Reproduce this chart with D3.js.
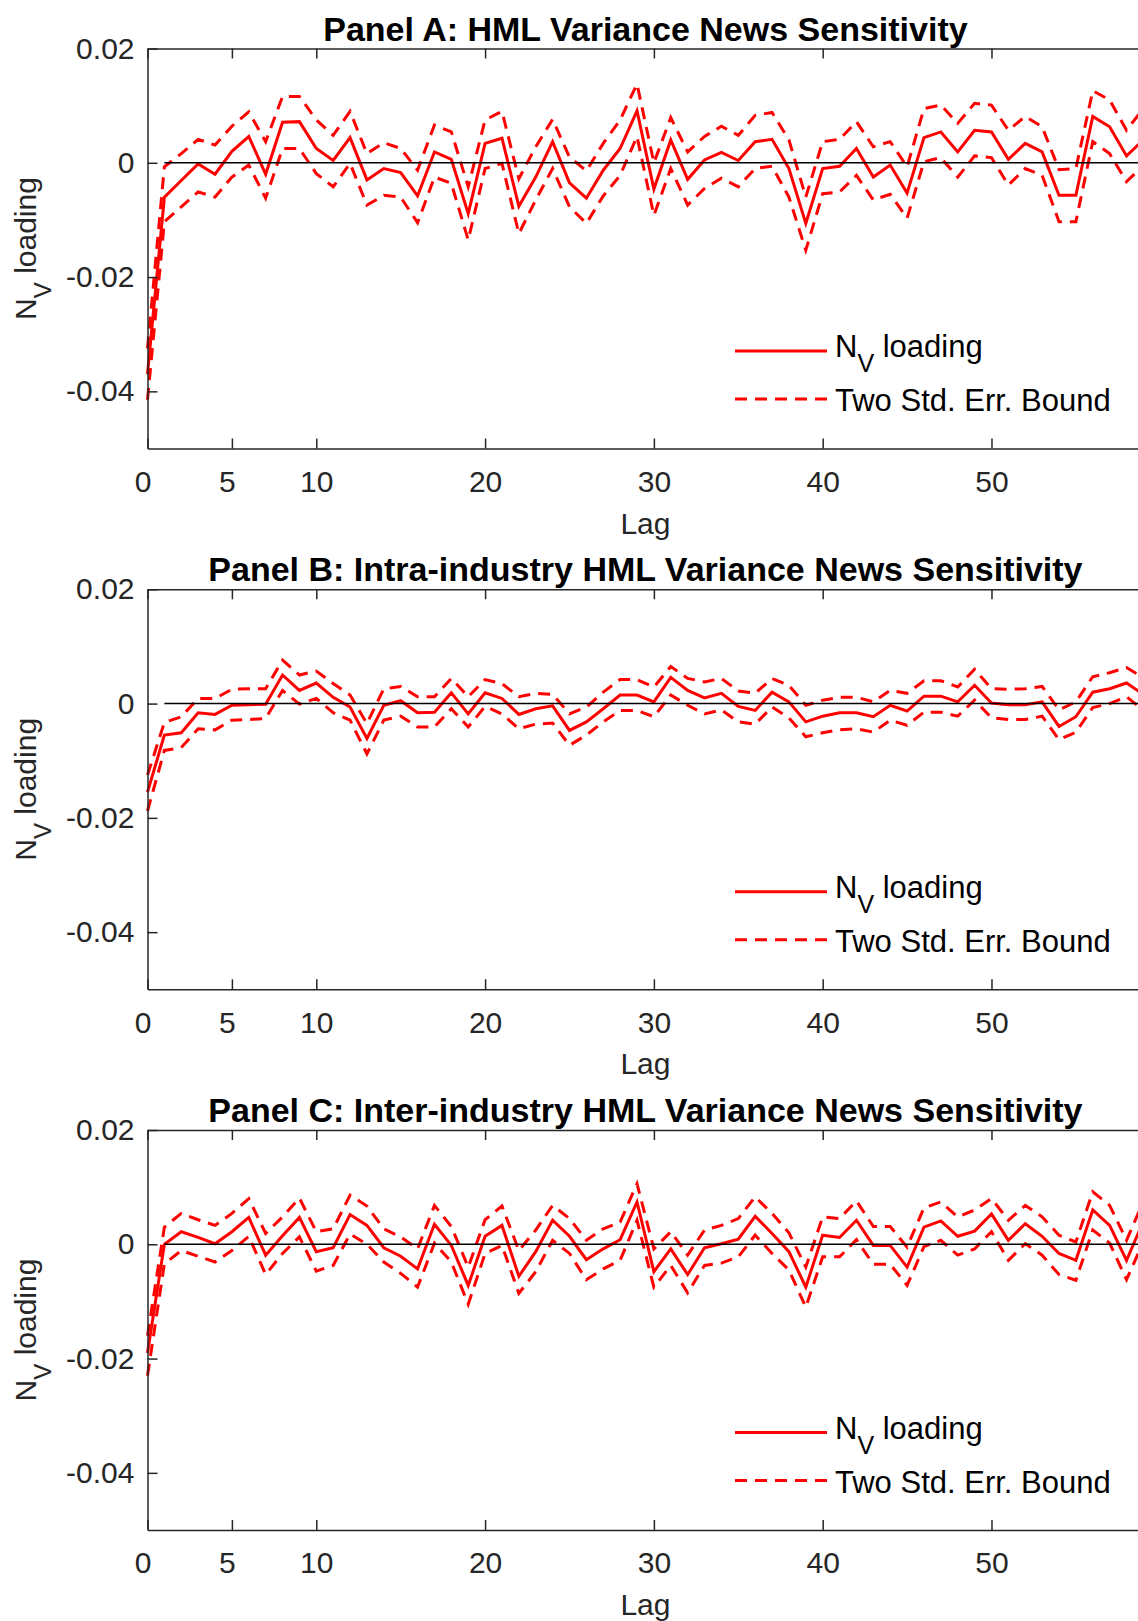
<!DOCTYPE html>
<html>
<head>
<meta charset="utf-8">
<script src="https://cdn.jsdelivr.net/npm/d3@7"></script>
<style>
  html, body { margin: 0; padding: 0; background: #fff; }
  svg { display: block; }
  text { font-family: "Liberation Sans", Arial, Helvetica, sans-serif; }
</style>
</head>
<body>
<svg id="chart" width="1138" height="1621"></svg>
<script>
// ---------------- data ----------------
const lags = [0,1,2,3,4,5,6,7,8,9,10,11,12,13,14,15,16,17,18,19,20,21,22,23,24,25,26,27,28,29,
              30,31,32,33,34,35,36,37,38,39,40,41,42,43,44,45,46,47,48,49,50,51,52,53,54,55,56,57,58,59];

const xTickValues = [0, 5, 10, 20, 30, 40, 50];
const yTickValues = [0.02, 0, -0.02, -0.04];
const yTickLabels = ["0.02", "0", "-0.02", "-0.04"];

const panelTitles = [
  "Panel A: HML Variance News Sensitivity",
  "Panel B: Intra-industry HML Variance News Sensitivity",
  "Panel C: Inter-industry HML Variance News Sensitivity"
];
const legendLabels = ["loading", "Two Std. Err. Bound"];

// Panel A
const loadA = [-0.0370,-0.0060,-0.0031,-0.0002,-0.0020,0.0020,0.0046,-0.0020,0.0071,0.0072,
  0.0025,0.0004,0.0044,-0.0030,-0.0010,-0.0017,-0.0058,0.0019,0.0006,-0.0089,
  0.0034,0.0043,-0.0076,-0.0025,0.0037,-0.0035,-0.0062,-0.0013,0.0025,0.0091,
  -0.0046,0.0040,-0.0029,0.0005,0.0018,0.0004,0.0037,0.0041,-0.0010,-0.0106,
  -0.0010,-0.0006,0.0025,-0.0025,-0.0004,-0.0053,0.0044,0.0054,0.0019,0.0057,
  0.0054,0.0006,0.0034,0.0019,-0.0057,-0.0057,0.0081,0.0063,0.0012,0.0040];
const upperA = [-0.0325,-0.0007,0.0016,0.0041,0.0031,0.0064,0.0089,0.0037,0.0116,0.0116,
  0.0075,0.0048,0.0090,0.0016,0.0035,0.0025,-0.0013,0.0066,0.0054,-0.0042,
  0.0075,0.0090,-0.0028,0.0028,0.0076,0.0010,-0.0014,0.0034,0.0075,0.0138,
  0.0000,0.0079,0.0019,0.0046,0.0064,0.0048,0.0083,0.0088,0.0040,-0.0060,
  0.0037,0.0041,0.0072,0.0028,0.0037,-0.0007,0.0095,0.0101,0.0069,0.0104,
  0.0101,0.0057,0.0081,0.0063,-0.0012,-0.0010,0.0126,0.0110,0.0057,0.0095];
const lowerA = [-0.0415,-0.0103,-0.0077,-0.0051,-0.0060,-0.0025,-0.0004,-0.0062,0.0025,0.0025,
  -0.0019,-0.0042,-0.0001,-0.0074,-0.0057,-0.0060,-0.0105,-0.0025,-0.0036,-0.0135,
  -0.0010,-0.0001,-0.0124,-0.0065,-0.0010,-0.0077,-0.0106,-0.0058,-0.0022,0.0046,
  -0.0092,-0.0010,-0.0074,-0.0045,-0.0027,-0.0042,-0.0010,-0.0006,-0.0060,-0.0153,
  -0.0054,-0.0051,-0.0022,-0.0065,-0.0055,-0.0097,0.0002,0.0009,-0.0025,0.0012,
  0.0009,-0.0039,-0.0010,-0.0022,-0.0103,-0.0103,0.0037,0.0016,-0.0033,-0.0005];

// Panel B
const loadB = [-0.0155,-0.0055,-0.0051,-0.0016,-0.0019,-0.0003,-0.0002,-0.0001,0.0050,0.0023,
  0.0036,0.0011,-0.0006,-0.0061,-0.0003,0.0005,-0.0016,-0.0015,0.0019,-0.0018,
  0.0019,0.0009,-0.0019,-0.0009,-0.0004,-0.0047,-0.0032,-0.0009,0.0015,0.0015,
  0.0003,0.0046,0.0023,0.0010,0.0018,-0.0005,-0.0012,0.0020,0.0003,-0.0032,
  -0.0022,-0.0016,-0.0016,-0.0023,-0.0003,-0.0013,0.0013,0.0013,0.0003,0.0032,
  0.0001,-0.0002,-0.0002,0.0003,-0.0040,-0.0023,0.0020,0.0026,0.0036,0.0016];
const upperB = [-0.0125,-0.0033,-0.0023,0.0009,0.0009,0.0025,0.0026,0.0026,0.0076,0.0050,
  0.0057,0.0035,0.0015,-0.0035,0.0026,0.0030,0.0012,0.0012,0.0044,0.0012,
  0.0042,0.0035,0.0012,0.0018,0.0016,-0.0018,-0.0006,0.0020,0.0042,0.0042,
  0.0029,0.0065,0.0044,0.0038,0.0044,0.0022,0.0018,0.0044,0.0032,-0.0003,
  0.0006,0.0011,0.0011,0.0003,0.0023,0.0018,0.0040,0.0040,0.0029,0.0060,
  0.0026,0.0025,0.0026,0.0030,-0.0011,0.0003,0.0047,0.0054,0.0063,0.0045];
const lowerB = [-0.0188,-0.0082,-0.0077,-0.0044,-0.0046,-0.0029,-0.0028,-0.0026,0.0023,-0.0001,
  0.0009,-0.0016,-0.0029,-0.0088,-0.0029,-0.0022,-0.0041,-0.0041,-0.0009,-0.0041,
  -0.0005,-0.0018,-0.0044,-0.0036,-0.0034,-0.0073,-0.0055,-0.0032,-0.0012,-0.0012,
  -0.0023,0.0015,-0.0003,-0.0018,-0.0011,-0.0032,-0.0036,-0.0006,-0.0025,-0.0058,
  -0.0051,-0.0046,-0.0044,-0.0050,-0.0029,-0.0038,-0.0015,-0.0015,-0.0022,0.0006,
  -0.0025,-0.0028,-0.0028,-0.0022,-0.0063,-0.0050,-0.0007,0.0000,0.0012,-0.0012];

// Panel C
const loadC = [-0.0190,0.0000,0.0022,0.0012,0.0001,0.0022,0.0047,-0.0019,0.0015,0.0047,
  -0.0013,-0.0006,0.0052,0.0033,-0.0006,-0.0021,-0.0043,0.0035,-0.0002,-0.0072,
  0.0014,0.0033,-0.0056,-0.0013,0.0042,0.0014,-0.0027,-0.0008,0.0008,0.0074,
  -0.0048,-0.0008,-0.0053,-0.0006,0.0001,0.0009,0.0049,0.0019,-0.0013,-0.0075,
  0.0016,0.0012,0.0042,-0.0002,-0.0002,-0.0040,0.0030,0.0041,0.0014,0.0023,
  0.0053,0.0007,0.0036,0.0014,-0.0016,-0.0028,0.0060,0.0033,-0.0028,0.0040];
const upperC = [-0.0160,0.0030,0.0054,0.0043,0.0033,0.0054,0.0080,0.0019,0.0048,0.0081,
  0.0022,0.0027,0.0086,0.0067,0.0027,0.0013,-0.0008,0.0068,0.0031,-0.0040,
  0.0043,0.0067,-0.0011,0.0025,0.0068,0.0045,0.0007,0.0027,0.0039,0.0106,
  -0.0008,0.0022,-0.0019,0.0025,0.0033,0.0045,0.0083,0.0054,0.0020,-0.0040,
  0.0048,0.0045,0.0076,0.0031,0.0031,-0.0005,0.0064,0.0074,0.0048,0.0060,
  0.0080,0.0042,0.0068,0.0048,0.0016,0.0004,0.0092,0.0068,0.0007,0.0075];
const lowerC = [-0.0230,-0.0034,-0.0011,-0.0021,-0.0031,-0.0011,0.0014,-0.0053,-0.0016,0.0013,
  -0.0047,-0.0037,0.0018,0.0000,-0.0031,-0.0051,-0.0075,0.0002,-0.0031,-0.0105,
  -0.0016,-0.0002,-0.0086,-0.0048,0.0007,-0.0016,-0.0062,-0.0043,-0.0028,0.0042,
  -0.0075,-0.0037,-0.0085,-0.0037,-0.0033,-0.0022,0.0016,-0.0016,-0.0045,-0.0110,
  -0.0022,-0.0022,0.0008,-0.0035,-0.0035,-0.0072,-0.0004,0.0007,-0.0019,-0.0008,
  0.0022,-0.0028,0.0001,-0.0019,-0.0053,-0.0063,0.0025,0.0002,-0.0062,0.0005];

const panels = [
  { title: panelTitles[0], load: loadA, upper: upperA, lower: lowerA },
  { title: panelTitles[1], load: loadB, upper: upperB, lower: lowerB },
  { title: panelTitles[2], load: loadC, upper: upperC, lower: lowerC }
];

// ---------------- layout ----------------
const svg = d3.select("#chart");
const left = 147.5, right = 1143.4;
const panelH = 400;
const panelTops = [48.5, 589.3, 1130];
const RED = "#ff0000", AX = "#262626";
const FONT = 30, LEGFONT = 31;

const x = d3.scaleLinear().domain([0, 59]).range([left, right]);

panels.forEach((p, i) => {
  const top = panelTops[i], bottom = top + panelH;
  const y = d3.scaleLinear().domain([-0.05, 0.02]).range([bottom, top]);
  const g = svg.append("g");

  // data lines
  const line = d3.line().x((d, k) => x(lags[k])).y(d => y(d));
  g.append("path").datum(p.upper).attr("d", line)
    .attr("fill", "none").attr("stroke", RED).attr("stroke-width", 3)
    .attr("stroke-dasharray", "12,8").attr("stroke-linejoin", "miter");
  g.append("path").datum(p.lower).attr("d", line)
    .attr("fill", "none").attr("stroke", RED).attr("stroke-width", 3)
    .attr("stroke-dasharray", "12,8").attr("stroke-linejoin", "miter");
  g.append("path").datum(p.load).attr("d", line)
    .attr("fill", "none").attr("stroke", RED).attr("stroke-width", 3);

  // zero line (from lag 1)
  g.append("line")
    .attr("x1", x(1)).attr("x2", x(59))
    .attr("y1", y(0)).attr("y2", y(0))
    .attr("stroke", "#000").attr("stroke-width", 1.5);

  // axes
  const xb = g.append("g").attr("transform", `translate(0,${bottom})`)
    .call(d3.axisBottom(x).tickValues(xTickValues).tickSize(-10).tickSizeOuter(0).tickPadding(22));
  xb.selectAll(".tick text").attr("dx", d => (d < 10 ? -5 : 0));
  const xt = g.append("g").attr("transform", `translate(0,${top})`)
    .call(d3.axisTop(x).tickValues(xTickValues).tickSize(-10).tickSizeOuter(0).tickFormat(""));
  const yl = g.append("g").attr("transform", `translate(${left},0)`)
    .call(d3.axisLeft(y).tickValues(yTickValues).tickSize(-10).tickSizeOuter(0).tickPadding(13)
      .tickFormat((d, k) => yTickLabels[k]));
  [xb, xt, yl].forEach(a => {
    a.selectAll(".domain").attr("stroke", AX).attr("stroke-width", 1.5);
    a.selectAll(".tick line").attr("stroke", AX).attr("stroke-width", 1.5);
    a.selectAll(".tick text").attr("fill", AX).style("font-size", FONT + "px")
      .style("font-family", '"Liberation Sans", Arial, sans-serif');
  });

  // title
  g.append("text").attr("x", (left + right) / 2).attr("y", top - 8)
    .attr("text-anchor", "middle").attr("font-weight", "bold")
    .style("font-size", "34px").attr("fill", "#000").text(p.title);

  // x label
  g.append("text").attr("x", (left + right) / 2).attr("y", bottom + 85)
    .attr("text-anchor", "middle").style("font-size", FONT + "px").attr("fill", AX).text("Lag");

  // y label
  const yt = g.append("text")
    .attr("transform", `translate(36,${(top + bottom) / 2}) rotate(-90)`)
    .attr("text-anchor", "middle").style("font-size", FONT + "px").attr("fill", AX);
  yt.append("tspan").text("N");
  yt.append("tspan").attr("dy", 15).style("font-size", "24px").text("V");
  yt.append("tspan").attr("dy", -15).text(" " + legendLabels[0]);

  // legend
  const lg = g.append("g");
  lg.append("line").attr("x1", 735).attr("x2", 827).attr("y1", top + 302.5).attr("y2", top + 302.5)
    .attr("stroke", RED).attr("stroke-width", 3);
  lg.append("line").attr("x1", 735).attr("x2", 827).attr("y1", top + 350.5).attr("y2", top + 350.5)
    .attr("stroke", RED).attr("stroke-width", 3).attr("stroke-dasharray", "12,8");
  const t1 = lg.append("text").attr("x", 835).attr("y", top + 308.5)
    .style("font-size", LEGFONT + "px").attr("fill", "#000");
  t1.append("tspan").text("N");
  t1.append("tspan").attr("dy", 15).style("font-size", "25px").text("V");
  t1.append("tspan").attr("dy", -15).text(" " + legendLabels[0]);
  lg.append("text").attr("x", 835).attr("y", top + 362.5)
    .style("font-size", LEGFONT + "px").attr("fill", "#000").text(legendLabels[1]);
});
</script>
</body>
</html>
